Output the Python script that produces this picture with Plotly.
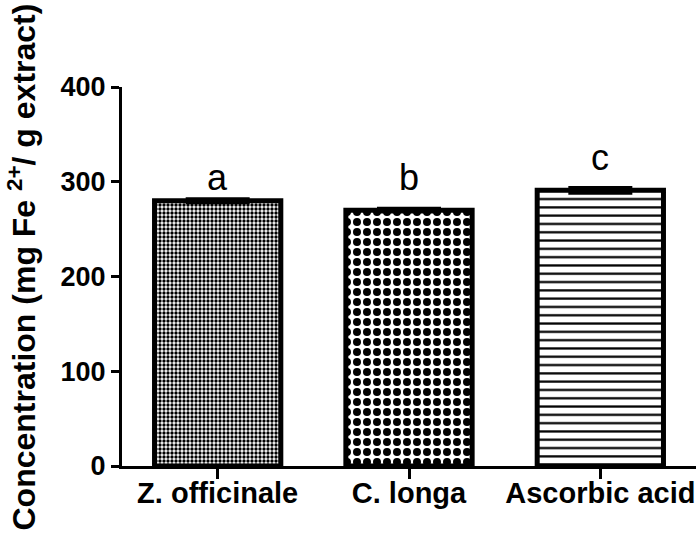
import plotly.graph_objects as go

categories = ["Z. officinale", "C. longa", "Ascorbic acid"]
values = [280, 270, 291]
errors = [1, 1, 2]
letters = ["a", "b", "c"]
y_ticks = [0, 100, 200, 300, 400]
y_title = "Concentration (mg Fe <sup>2+</sup>/ g extract)"

FONT = "Arial, Liberation Sans, sans-serif"

patterns = [
    dict(shape=".", size=4, solidity=0.55, fgcolor="black", bgcolor="white", fillmode="replace"),
    dict(shape=".", size=10, solidity=0.5, fgcolor="black", bgcolor="white", fillmode="replace"),
    dict(shape="-", size=8.3, solidity=0.27, fgcolor="black", bgcolor="white", fillmode="replace"),
]

fig = go.Figure()
for i, cat in enumerate(categories):
    fig.add_trace(go.Bar(
        x=[cat], y=[values[i]],
        width=0.66,
        marker=dict(color="white", line=dict(color="black", width=5), pattern=patterns[i]),
        error_y=dict(type="data", array=[errors[i]], visible=True, color="black", thickness=5, width=32),
        showlegend=False,
    ))

letter_shift = [0, 9, 8]
for i, cat in enumerate(categories):
    fig.add_annotation(x=cat, y=values[i] + errors[i], text=letters[i], showarrow=False,
                       yanchor="bottom", yshift=letter_shift[i],
                       font=dict(family=FONT, size=36, color="black"))

# y-axis title as rotated annotation (to match reference placement)
fig.add_annotation(xref="paper", yref="paper", x=0, y=0.5, xanchor="center", yanchor="middle",
                   xshift=-101, yshift=9, textangle=-90, showarrow=False, text=y_title,
                   font=dict(family=FONT, size=32, color="black", weight="bold"))

fig.update_layout(
    width=696, height=536,
    margin=dict(l=122, r=0, t=87, b=70),
    paper_bgcolor="white", plot_bgcolor="white",
    bargap=0.34,
    font=dict(family=FONT, color="black"),
)
fig.update_xaxes(
    type="category", range=[-0.5, 2.5], automargin=False,
    showline=True, linecolor="black", linewidth=3,
    ticks="outside", ticklen=10, tickwidth=3, tickcolor="black",
    tickfont=dict(family=FONT, size=29, color="black", weight="bold"),
    ticklabelstandoff=-11,
    showgrid=False, zeroline=False,
)
fig.update_yaxes(
    range=[0, 400], tickvals=y_ticks, automargin=False,
    showline=True, linecolor="black", linewidth=3,
    ticks="outside", ticklen=8, tickwidth=3, tickcolor="black",
    tickfont=dict(family=FONT, size=27, color="black", weight="bold"),
    showgrid=False, zeroline=False,
)

fig.write_html("out.html", config={"displayModeBar": False},
               post_script="document.body.style.margin='0';document.body.style.overflow='hidden';")
